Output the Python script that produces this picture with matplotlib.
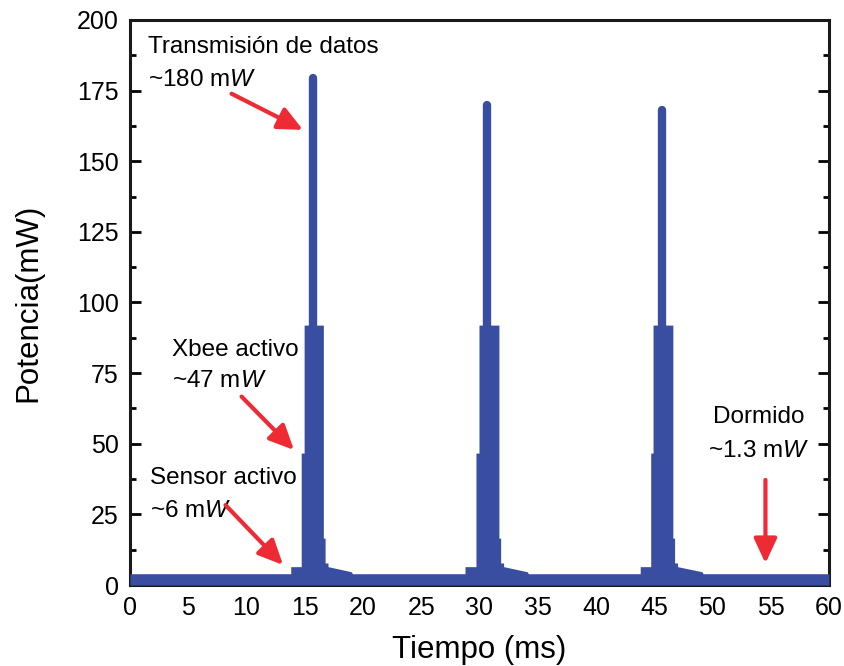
import numpy as np
import matplotlib.pyplot as plt

plt.rcParams['font.family'] = ['Liberation Sans', 'DejaVu Sans']
plt.rcParams['mathtext.fontset'] = 'custom'
plt.rcParams['mathtext.rm'] = 'Liberation Sans'
plt.rcParams['mathtext.it'] = 'Liberation Sans:italic'

# tiempos (ms) de cada ciclo
sensor_on = [13.8, 28.76, 43.8]
xbee_on = [14.7, 29.7, 44.7]
tx_on = [14.95, 29.96, 44.9]
tx_off = [16.6, 31.67, 46.6]
tail_end = [19.0, 34.1, 49.1]
spike_t = [15.67, 30.69, 45.7]
spike_peak = [179.5, 170.0, 168.0]

# niveles de potencia (mW), envolvente superior de la traza
sleep_p = 4.0
sensor_p = 6.5
xbee_p = 46.7
tx_p = 92.0
drop_p = 16.6
after_p = 7.8
tail_start_p = 6.5
tail_end_p = 4.7

blue = '#3a4ea1'
red = '#ee2a35'

# envolvente de la traza
t = [0.0]
p = [sleep_p]
for i in range(3):
    t += [sensor_on[i], sensor_on[i], xbee_on[i], xbee_on[i], tx_on[i], tx_on[i],
          tx_off[i], tx_off[i], tx_off[i] + 0.15, tx_off[i] + 0.15,
          tx_off[i] + 0.4, tx_off[i] + 0.4, tail_end[i], tail_end[i] + 0.1]
    p += [sleep_p, sensor_p, sensor_p, xbee_p, xbee_p, tx_p,
          tx_p, drop_p, drop_p, after_p,
          after_p, tail_start_p, tail_end_p, sleep_p]
t.append(60.0)
p.append(sleep_p)

fig = plt.figure(figsize=(8.45, 6.66), dpi=100)
ax = fig.add_axes([0.1538, 0.1216, 0.8272, 0.8484])
ax.set_axisbelow(True)

ax.fill_between(t, 0, p, color=blue, lw=0, zorder=3)
ax.vlines(spike_t, 10, spike_peak, color=blue, lw=6, capstyle='round', zorder=3)

ax.set_xlim(0, 60)
ax.set_ylim(0, 200)
ax.set_xticks(np.arange(0, 61, 5))
ax.set_yticks(np.arange(0, 201, 25))
ax.set_yticks(np.arange(12.5, 200, 25), minor=True)
ax.tick_params(axis='both', which='major', direction='in', length=8, width=2,
               labelsize=18, pad=8)
ax.tick_params(axis='x', which='major', length=5)
ax.tick_params(axis='y', which='minor', direction='in', length=4, width=2)
ax.tick_params(axis='y', which='both', right=True)
for s in ax.spines.values():
    s.set_linewidth(2.2)
    s.set_color('#1a1a1a')

ax.set_xlabel('Tiempo (ms)', fontsize=22.5, labelpad=11)
ax.set_ylabel('Potencia(mW)', fontsize=22.5, labelpad=24)

fs = 17.5
ax.text(1.55, 190.4, 'Transmisión de datos', fontsize=fs, va='center')
ax.text(1.55, 178.8, '~180 m$W$', fontsize=fs, va='center')
ax.text(3.6, 83.2, 'Xbee activo', fontsize=fs, va='center')
ax.text(3.6, 72.2, '~47 m$W$', fontsize=fs, va='center')
ax.text(1.7, 37.9, 'Sensor activo', fontsize=fs, va='center')
ax.text(1.7, 26.2, '~6 m$W$', fontsize=fs, va='center')
ax.text(54.0, 59.5, 'Dormido', fontsize=fs, va='center', ha='center')
ax.text(54.0, 47.4, '~1.3 m$W$', fontsize=fs, va='center', ha='center')

arrows = [((8.72, 173.9), (14.85, 161.1)),
          ((9.58, 66.7), (14.08, 47.8)),
          ((8.2, 28.3), (13.14, 7.1)),
          ((54.55, 37.2), (54.55, 7.7))]
for start, tip in arrows:
    ax.annotate('', xy=tip, xytext=start,
                arrowprops=dict(arrowstyle='-|>,head_length=0.75,head_width=0.35',
                                color=red, lw=3, mutation_scale=20,
                                shrinkA=0, shrinkB=0))

fig.savefig('out.png', dpi=100)
